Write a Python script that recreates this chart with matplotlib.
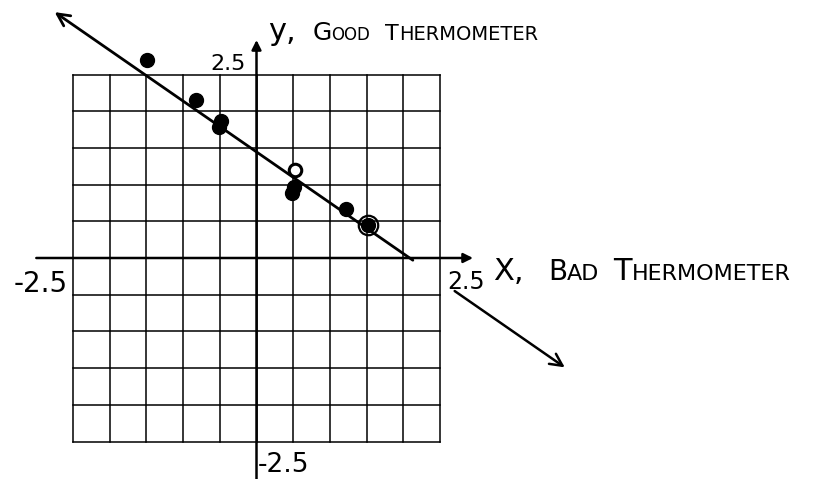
import numpy as np
import matplotlib.pyplot as plt

# readings: bad thermometer (x) vs good thermometer (y), standardized units
bad_x = [-1.49, -0.82, -0.49, -0.51, 0.51, 0.49, 1.22, 1.52]
good_y = [2.70, 2.15, 1.86, 1.78, 0.97, 0.89, 0.67, 0.45]
# the one reading drawn as an open circle
open_x = [0.52]
open_y = [1.20]
# the reading that got circled
ring_x = [1.52]
ring_y = [0.45]

# hand drawn fit line, arrow at the upper-left end
fit_start = (2.13, -0.03)
fit_end = (-2.75, 3.35)
# pointer from the x axis label down to the right
pointer_start = (2.70, -0.45)
pointer_end = (4.20, -1.49)

grid_ticks = np.arange(-2.5, 2.51, 0.5)

fig = plt.figure(figsize=(8.32, 4.79), dpi=100)
ax = fig.add_axes([0, 0, 1, 1])
ax.set_xlim(-3.4946, 7.8406)
ax.set_ylim(-3.0109, 3.5150)
ax.axis('off')

# the square grid
for g in grid_ticks:
    ax.plot([g, g], [-2.5, 2.5], color='black', lw=1.1, zorder=1)
    ax.plot([-2.5, 2.5], [g, g], color='black', lw=1.1, zorder=1)

# axes with arrow heads
ax.annotate('', xy=(2.95, 0), xytext=(-3.0, 0),
            arrowprops=dict(arrowstyle='-|>', lw=1.8, color='black',
                            mutation_scale=14, shrinkA=0, shrinkB=0))
ax.annotate('', xy=(0, 2.97), xytext=(0, -3.02),
            arrowprops=dict(arrowstyle='-|>', lw=1.8, color='black',
                            mutation_scale=14, shrinkA=0, shrinkB=0))

# fit line and pointer
ax.annotate('', xy=fit_end, xytext=fit_start,
            arrowprops=dict(arrowstyle='->', lw=2.0, color='black',
                            mutation_scale=22, shrinkA=0, shrinkB=0))
ax.annotate('', xy=pointer_end, xytext=pointer_start,
            arrowprops=dict(arrowstyle='->', lw=1.8, color='black',
                            mutation_scale=22, shrinkA=0, shrinkB=0))

# data points
ax.plot(bad_x, good_y, 'o', color='black', ms=10, zorder=5)
ax.plot(open_x, open_y, 'o', mfc='white', mec='black', mew=2.2, ms=9, zorder=5)
ax.plot(ring_x, ring_y, 'o', mfc='none', mec='black', mew=1.6, ms=14, zorder=5)

# end values on the axes
ax.text(-0.14, 2.56, '2.5', fontsize=16, ha='right', va='baseline')
ax.text(0.02, -2.92, '-2.5', fontsize=19, ha='left', va='baseline')
ax.text(-2.57, -0.46, '-2.5', fontsize=20, ha='right', va='baseline')
ax.text(2.60, -0.42, '2.5', fontsize=17, ha='left', va='baseline')


# axis titles, written in small caps by stringing pieces together
def small_caps(y, parts):
    r = fig.canvas.get_renderer()
    x = None
    for s, size, x0 in parts:
        if x0 is not None:
            x = x0
        t = ax.text(x, y, s, fontsize=size, ha='left', va='baseline')
        bb = t.get_window_extent(renderer=r)
        x = ax.transData.inverted().transform((bb.x1, bb.y0))[0]


small_caps(-0.30, [('X,', 22, 3.22), ('B', 20, 3.97), ('AD', 16, None),
                   ('T', 22, 4.86), ('HERMOMETER', 16, None)])
small_caps(2.97, [('y,', 22, 0.16), ('G', 18, 0.76), ('OOD', 12, None),
                  ('T', 16, 1.75), ('HERMOMETER', 14, None)])

fig.savefig('out.png', dpi=100)
